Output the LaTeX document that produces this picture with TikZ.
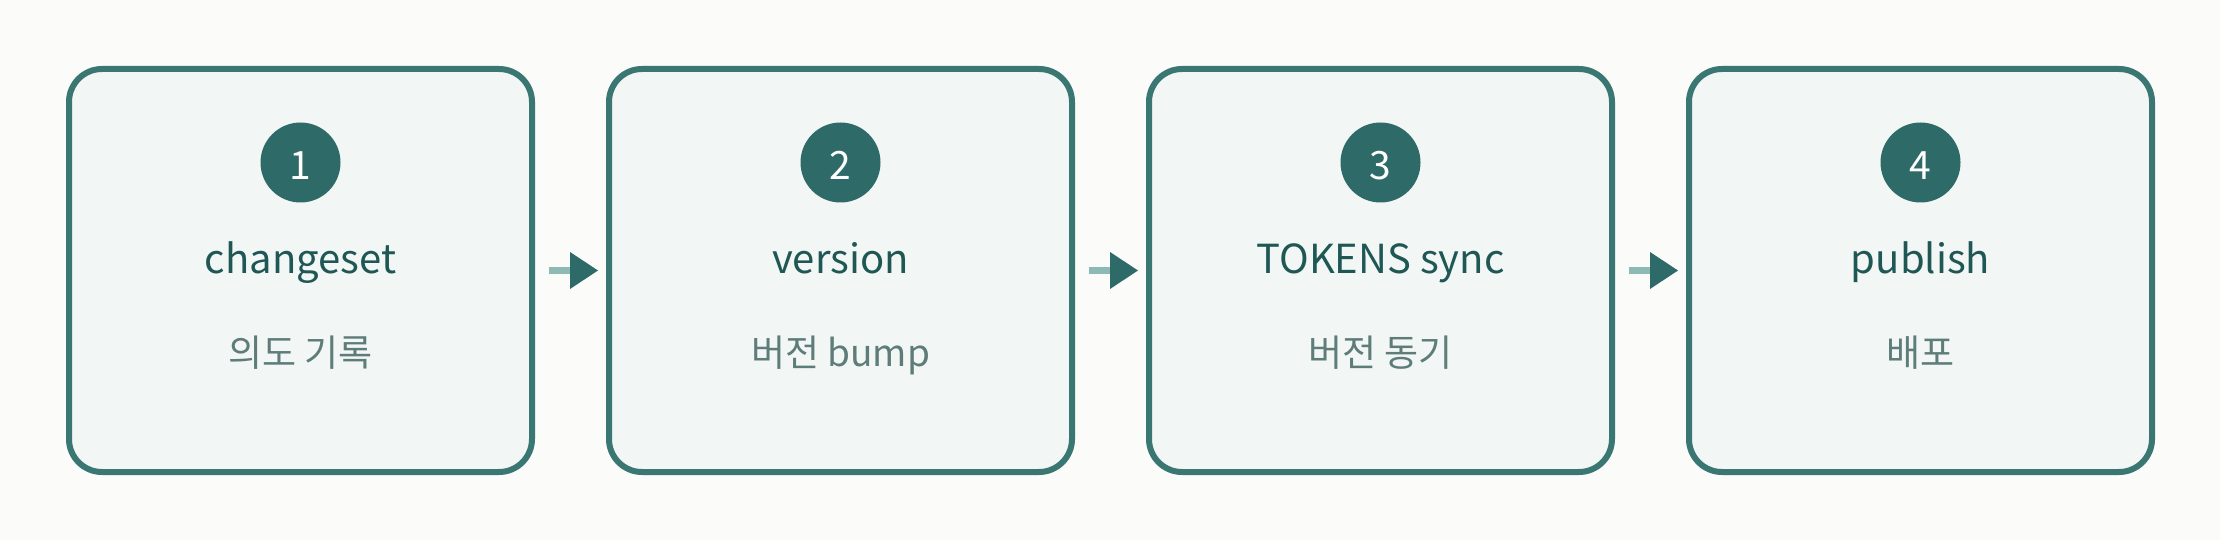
\documentclass[tikz,border=0pt]{standalone}
\usepackage{fontspec}
\setmainfont{Noto Sans CJK KR}
\usetikzlibrary{arrows.meta}
\definecolor{bgc}{HTML}{FBFBFA}
\definecolor{boxfill}{HTML}{F2F6F5}
\definecolor{boxline}{HTML}{3A7773}
\definecolor{dark}{HTML}{2E6B68}
\definecolor{titlec}{HTML}{1E5753}
\definecolor{subc}{HTML}{5E7D79}
\definecolor{shaftc}{HTML}{8DBAB4}
\tikzset{
  stepbox/.style={draw=boxline, fill=boxfill, line width=6pt, rounded corners=33pt,
    minimum width=463pt, minimum height=403pt, inner sep=0pt},
  numdisc/.style={circle, fill=dark, minimum size=80pt, inner sep=0pt},
  numtext/.style={anchor=base, text=white, inner sep=0pt, font=\fontsize{39}{46}\selectfont},
  titletext/.style={anchor=base, text=titlec, inner sep=0pt, font=\fontsize{40}{48}\selectfont},
  subtext/.style={anchor=base, text=subc, inner sep=0pt, font=\fontsize{37}{44}\selectfont},
  flow/.style={draw=shaftc, line width=7pt,
    -{Triangle[length=28pt, width=37pt, line width=0pt, color=dark]}}
}
\begin{document}
\begin{tikzpicture}[x=1pt, y=-1pt]
  \fill[bgc] (0,0) rectangle (2220,540);
  \useasboundingbox (0,0) rectangle (2220,540);
  \foreach \i/\t/\s in {1/changeset/의도 기록, 2/version/버전 bump, 3/TOKENS sync/버전 동기, 4/publish/배포}{
    \pgfmathsetmacro{\cx}{300.5+540*(\i-1)}
    \node[stepbox] (b\i) at (\cx,270.5) {};
    \node[numdisc] (c\i) at (\cx,162.5) {};
    \node[numtext] (n\i) at (\cx,180) {\i};
    \node[titletext] (t\i) at (\cx,273) {\t};
    \node[subtext] (s\i) at (\cx,366) {\s};
  }
  \draw[flow] ([xshift=14pt]b1.east) -- ([xshift=-8pt]b2.west);
  \draw[flow] ([xshift=14pt]b2.east) -- ([xshift=-8pt]b3.west);
  \draw[flow] ([xshift=14pt]b3.east) -- ([xshift=-8pt]b4.west);
\end{tikzpicture}
\end{document}
